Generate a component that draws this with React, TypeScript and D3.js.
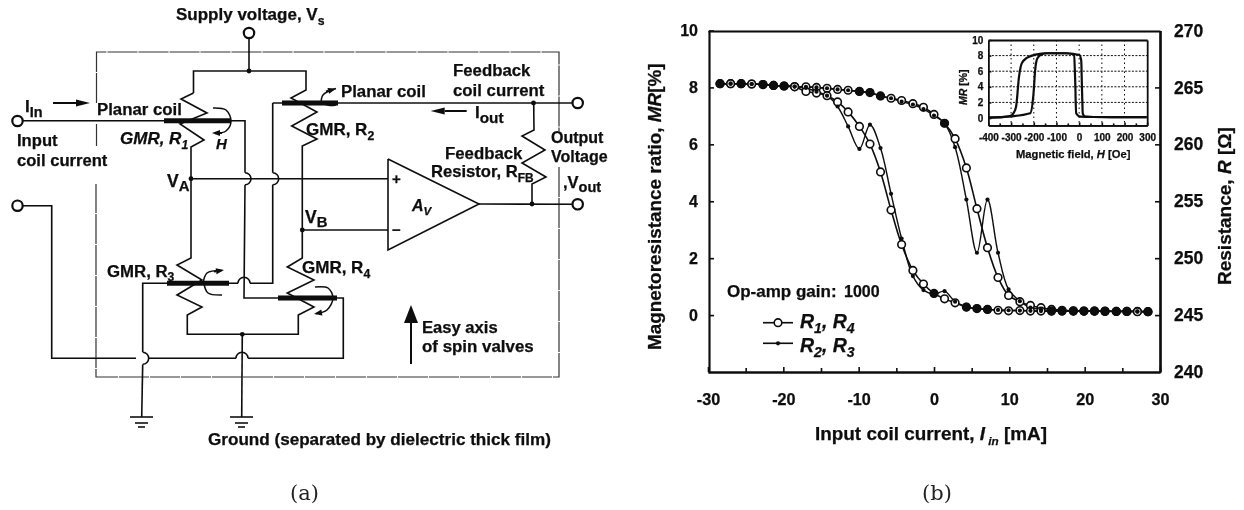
import React, { useEffect, useRef } from 'react';
import * as d3 from 'd3';

// ---- chart (b) values ----
const currentMA = [-28.4, -27, -25.6, -24.2, -22.7, -21.3, -19.9, -18.5, -17, -15.6, -14.2, -12.8, -11.4, -9.9, -8.5, -7.1, -5.7, -4.3, -2.8, -1.4, 0, 1.4, 2.8, 4.3, 5.7, 7.1, 8.5, 9.9, 11.4, 12.8, 14.2, 15.6, 17, 18.5, 19.9, 21.3, 22.7, 24.2, 25.6, 27, 28.4];
const r14Upper = [8.13, 8.13, 8.13, 8.12, 8.1, 8.07, 8.05, 8.03, 8.02, 8, 7.97, 7.93, 7.9, 7.86, 7.82, 7.7, 7.62, 7.54, 7.43, 7.3, 7.05, 6.74, 6.2, 5.17, 3.74, 2.37, 1.32, 0.69, 0.47, 0.34, 0.26, 0.2, 0.17, 0.15, 0.14, 0.14, 0.14, 0.13, 0.13, 0.13, 0.12];
const r14Lower = [8.13, 8.13, 8.13, 8.12, 8.1, 8.07, 8.05, 8.02, 7.86, 7.8, 7.71, 7.49, 7.14, 6.63, 6.01, 5.03, 3.69, 2.48, 1.57, 1.09, 0.76, 0.57, 0.43, 0.28, 0.23, 0.2, 0.17, 0.15, 0.16, 0.14, 0.14, 0.14, 0.14, 0.14, 0.14, 0.14, 0.13, 0.13, 0.13, 0.12, 0.12];
const r23Upper = [8.13, 8.13, 8.13, 8.12, 8.1, 8.07, 8.05, 8.03, 8.02, 8, 7.97, 7.93, 7.9, 7.86, 7.82, 7.7, 7.62, 7.5, 7.4, 7.24, 7.01, 6.74, 5.9, 4.06, 2.19, 4.06, 2.19, 0.9, 0.49, 0.26, 0.2, 0.16, 0.15, 0.15, 0.14, 0.14, 0.14, 0.13, 0.13, 0.13, 0.12];
const r23Lower = [8.13, 8.13, 8.13, 8.12, 8.1, 8.07, 8.05, 8.03, 7.98, 7.85, 7.71, 7.33, 6.63, 5.84, 6.69, 5.87, 4.26, 2.69, 1.37, 0.88, 0.74, 0.84, 0.47, 0.3, 0.22, 0.2, 0.18, 0.17, 0.16, 0.15, 0.14, 0.14, 0.14, 0.14, 0.14, 0.14, 0.13, 0.13, 0.13, 0.12, 0.12];
// where the open and filled markers print on top of each other as a solid blob
const solidOnUpper = [-28.4, -25.6, -22.7, -21.3, -19.9, -9.9, -8.5, -7.1, 1.4];
const solidOnLower = [0, 4.3, 5.7, 7.1, 15.6, 17, 18.5, 19.9, 21.3, 22.7, 24.2, 25.6, 28.4];

const mrTicks = [0, 2, 4, 6, 8, 10];
const ohmTicks = [240, 245, 250, 255, 260, 265, 270];
const currentTicks = [-30, -20, -10, 0, 10, 20, 30];
const currentMinorTicks = [-25, -15, -5, 5, 15, 25];

// ---- inset values ----
const fieldOuterLeft = [-400, -340, -304, -290, -278, -265, -253, -231, -187, -143, -60, -22, -18, -13, 4, 63, 298];
const mrOuterLeft = [0.05, 0.1, 0.26, 0.6, 1.45, 5.3, 7, 7.7, 8.16, 8.3, 8.3, 8.1, 5.3, 0.6, 0.17, 0.13, 0.1];
const fieldOuterRight = [-400, -300, -216, -201, -194, -184, -165, -143, -54, 1, 9, 13, 16, 26, 63, 298];
const mrOuterRight = [0.05, 0.2, 0.6, 3.2, 6.1, 7.65, 8.16, 8.3, 8.3, 8.07, 7.4, 3.2, 0.6, 0.17, 0.13, 0.1];
const insetMrTicks = [0, 2, 4, 6, 8, 10];
const insetFieldTicks = [-400, -300, -200, -100, 0, 100, 200, 300];
const insetFieldMinor = [-350, -250, -150, -50, 50, 150, 250];

const BOLD = '"Liberation Sans", Arial, sans-serif';
const SERIF = '"DejaVu Serif", serif';
const INK = '#0c0c0c';

type Seg = { t: string; sub?: boolean; it?: boolean };
type Note = { x: number; y: number; s: number; parts: Seg[]; italic?: boolean; subScale?: number };

const plain = (t: string): Seg[] => [{ t }];

// ---- schematic (a) labels ----
const circuitNotes: Note[] = [
  { x: 176, y: 20, s: 17, parts: [{ t: 'Supply voltage, V' }, { t: 's', sub: true }] },
  { x: 25, y: 112, s: 17, parts: [{ t: 'I' }, { t: 'In', sub: true }], subScale: 0.85 },
  { x: 97, y: 115, s: 16.8, parts: plain('Planar coil') },
  { x: 17, y: 146, s: 16.6, parts: plain('Input') },
  { x: 17, y: 166, s: 16.6, parts: plain('coil current') },
  { x: 120, y: 144, s: 17, italic: true, parts: [{ t: 'GMR, R' }, { t: '1', sub: true }] },
  { x: 216, y: 149, s: 15, italic: true, parts: plain('H') },
  { x: 167, y: 186.5, s: 17.5, parts: [{ t: 'V' }, { t: 'A', sub: true }], subScale: 0.85 },
  { x: 305, y: 222.5, s: 17.5, parts: [{ t: 'V' }, { t: 'B', sub: true }], subScale: 0.85 },
  { x: 341, y: 97, s: 16.8, parts: plain('Planar coil') },
  { x: 306, y: 135, s: 17, parts: [{ t: 'GMR, R' }, { t: '2', sub: true }] },
  { x: 453, y: 76, s: 16.8, parts: plain('Feedback') },
  { x: 453, y: 96, s: 16.8, parts: plain('coil current') },
  { x: 475, y: 118, s: 17, parts: [{ t: 'I' }, { t: 'out', sub: true }], subScale: 0.9 },
  { x: 551, y: 143, s: 16, parts: plain('Output') },
  { x: 551, y: 161.5, s: 16, parts: plain('Voltage') },
  { x: 563, y: 187.5, s: 16.5, parts: [{ t: ',V' }, { t: 'out', sub: true }], subScale: 0.88 },
  { x: 445, y: 158.5, s: 16.8, parts: plain('Feedback') },
  { x: 431, y: 177, s: 16.6, parts: [{ t: 'Resistor, R' }, { t: 'FB', sub: true }] },
  { x: 412, y: 211, s: 16, italic: true, parts: [{ t: 'A' }, { t: 'V', sub: true }] },
  { x: 392, y: 184, s: 15, parts: plain('+') },
  { x: 392, y: 235, s: 15, parts: plain('−') },
  { x: 107, y: 276.5, s: 16.8, parts: [{ t: 'GMR, R' }, { t: '3', sub: true }] },
  { x: 302, y: 273, s: 17, parts: [{ t: 'GMR, R' }, { t: '4', sub: true }] },
  { x: 422, y: 333, s: 16.6, parts: plain('Easy axis') },
  { x: 422, y: 352, s: 16.9, parts: plain('of spin valves') },
  { x: 208, y: 445, s: 17.1, parts: plain('Ground (separated by dielectric thick film)') },
];

// ---- schematic wiring, in the diagram's own pixel space ----
type Pt = [number, number];
const wires: Pt[][] = [
  [[249, 38], [249, 71]],
  [[193.5, 93], [193.5, 71], [306, 71], [306, 90], [291, 98], [317, 112], [291.7, 126], [317, 139], [302.3, 146], [302.3, 258], [287.3, 267], [314, 280], [287.3, 293], [314, 307], [298.3, 315], [298.3, 334.3], [187.3, 334.3], [187.3, 315], [202, 307], [177, 295], [202, 280], [177, 265], [191, 258], [191, 147], [204, 140], [180, 124], [207, 113], [181, 99], [193.5, 93]],
  [[23, 120.7], [245, 120.7], [245, 172.7]],
  [[245, 184.7], [244, 298], [343.3, 298], [343.3, 358.3], [248, 358.3]],
  [[236, 358.3], [148.5, 358.3]],
  [[136, 358.3], [51.7, 358.3], [51.7, 205.7], [23, 205.7]],
  [[272.7, 103], [272.7, 172.7]],
  [[272.7, 184.7], [272.7, 283.3], [250, 283.3]],
  [[238, 283.3], [142.7, 283.3], [142.7, 352]],
  [[142.7, 364.6], [141.7, 417]],
  [[242.3, 334.3], [241.7, 417]],
  [[272.7, 103], [572, 103]],
  [[191, 178.7], [388, 178.7]],
  [[302.3, 230], [388, 230]],
  [[388, 159], [479, 204], [388, 250], [388, 159]],
  [[479, 204], [572, 204.3]],
  [[533.7, 103], [534, 130], [522, 136], [545, 150], [522, 163], [546, 177], [532, 184], [532, 204]],
  [[130, 417], [153, 417]], [[135, 423], [148, 423]], [[138, 427], [145, 427]],
  [[230, 417], [253, 417]], [[235, 423], [248, 423]], [[238, 427], [245, 427]],
];
const coilBars: Pt[][] = [
  [[164, 120.7], [231, 120.7]],
  [[282, 103], [338, 103]],
  [[167, 283.3], [229, 283.3]],
  [[278, 298], [337, 298]],
];
const boxRuns: Pt[][] = [
  [[96.5, 103], [96.5, 52], [559, 52], [559, 131]],
  [[559, 167], [559, 377], [96, 377], [96, 184]],
  [[96.5, 124], [96.5, 146]],
];
const hopsRight: Pt[] = [[245, 178.7], [272.7, 178.7], [142.7, 358.3]];
const hopsUp: Pt[] = [[244, 283.3], [242, 358.3]];
const joints: Pt[] = [[249, 71], [191, 178.7], [302.3, 230], [533.5, 103], [532, 204], [242.3, 334.3]];
const terminals: Pt[] = [[249, 33], [17.5, 121], [17.5, 205.7], [577.7, 103], [577.7, 204.3]];
const fieldArcs: Pt[][] = [
  [[213, 108], [226, 110], [231, 121], [226, 131], [215, 133.5]],
  [[321, 104], [323, 95], [336, 88.5]],
  [[324, 104], [330, 105.5], [336, 105]],
  [[203, 284], [207, 273], [222, 270.5]],
  [[204, 284], [208, 293], [222, 295]],
  [[315, 287], [328, 288], [333, 298], [327, 310], [316, 313.5]],
];
const arrows: [Pt, Pt, number, number][] = [
  [[53, 103], [90, 103], 14, 7],
  [[466.7, 111], [430.7, 111], 14, 7],
  [[411, 364], [411, 305], 18, 14],
  [[222, 133], [212, 133], 8, 6],
  [[326, 91.5], [336, 88.5], 8, 6],
  [[214, 271.5], [224, 270], 8, 6],
  [[322, 312.5], [314, 314], 8, 6],
];

export default function App() {
  const svgEl = useRef<SVGSVGElement>(null);

  useEffect(() => {
    const root = d3.select(svgEl.current);
    root.selectAll('*').remove();

    // the source is a scan, everything sits slightly soft
    root.append('defs').append('filter').attr('id', 'scan')
      .attr('filterUnits', 'userSpaceOnUse')
      .attr('x', 0).attr('y', 0).attr('width', 1244).attr('height', 510)
      .append('feGaussianBlur').attr('stdDeviation', 0.4);
    const svg = root.append('g').attr('filter', 'url(#scan)');

    const note = (g: any, n: Note) => {
      const text = g.append('text')
        .attr('x', n.x).attr('y', n.y)
        .attr('font-family', BOLD).attr('font-weight', 700)
        .attr('font-size', n.s).attr('fill', INK)
        .attr('stroke', INK).attr('stroke-width', 0.25)
        .attr('font-style', n.italic ? 'italic' : 'normal');
      const drop = n.s * 0.28;
      n.parts.forEach((p, i) => {
        const prev = n.parts[i - 1];
        const span = text.append('tspan')
          .attr('font-size', p.sub ? n.s * (n.subScale || 0.72) : n.s)
          .attr('dy', p.sub ? drop : prev && prev.sub ? -drop : 0)
          .text(p.t);
        if (p.it) span.attr('font-style', 'italic');
      });
      return text;
    };

    // ---------- (a) schematic ----------
    const a = svg.append('g');
    const poly = d3.line<Pt>();
    const smooth = d3.line<Pt>().curve(d3.curveCatmullRom.alpha(0.5));

    a.selectAll('path.box').data(boxRuns).join('path')
      .attr('d', (d) => poly(d)).attr('fill', 'none')
      .attr('stroke', '#333').attr('stroke-width', 1.2).attr('stroke-dasharray', '30 1');
    a.selectAll('path.wire').data(wires).join('path')
      .attr('d', (d) => poly(d)).attr('fill', 'none')
      .attr('stroke', INK).attr('stroke-width', 1.6).attr('stroke-linejoin', 'miter');
    a.selectAll('path.bar').data(coilBars).join('path')
      .attr('d', (d) => poly(d)).attr('fill', 'none')
      .attr('stroke', INK).attr('stroke-width', 5);
    const hop = (c: Pt, from: number, to: number) => {
      const p = d3.path();
      p.arc(c[0], c[1], 6, from, to, false);
      return p.toString();
    };
    hopsRight.forEach((c) => {
      a.append('path').attr('d', hop(c, -Math.PI / 2, Math.PI / 2))
        .attr('fill', 'none').attr('stroke', INK).attr('stroke-width', 1.6);
    });
    hopsUp.forEach((c) => {
      a.append('path').attr('d', hop(c, Math.PI, 2 * Math.PI))
        .attr('fill', 'none').attr('stroke', INK).attr('stroke-width', 1.6);
    });
    a.selectAll('path.arc').data(fieldArcs).join('path')
      .attr('d', (d) => smooth(d)).attr('fill', 'none')
      .attr('stroke', INK).attr('stroke-width', 1.5);
    arrows.forEach(([from, to, head, wid]) => {
      const ang = Math.atan2(to[1] - from[1], to[0] - from[0]);
      const bx = to[0] - head * Math.cos(ang);
      const by = to[1] - head * Math.sin(ang);
      const nx = (-Math.sin(ang) * wid) / 2;
      const ny = (Math.cos(ang) * wid) / 2;
      a.append('path').attr('d', poly([from, [bx, by]])).attr('stroke', INK).attr('stroke-width', 2);
      a.append('path').attr('fill', INK)
        .attr('d', poly([to, [bx + nx, by + ny], [bx - nx, by - ny]]) + 'Z');
    });
    a.selectAll('circle.joint').data(joints).join('circle')
      .attr('cx', (d) => d[0]).attr('cy', (d) => d[1]).attr('r', 2.4).attr('fill', INK);
    a.selectAll('circle.term').data(terminals).join('circle')
      .attr('cx', (d) => d[0]).attr('cy', (d) => d[1]).attr('r', 5.2)
      .attr('fill', '#fff').attr('stroke', INK).attr('stroke-width', 2.2);
    circuitNotes.forEach((n) => note(a, n));
    a.append('text').attr('x', 290).attr('y', 500)
      .attr('font-family', SERIF).attr('font-size', 21).attr('fill', '#222').text('(a)');

    // ---------- (b) main plot ----------
    const xCur = d3.scaleLinear().domain([-30, 30]).range([708, 1160]);
    const yMr = d3.scaleLinear().domain([-2, 10]).range([372, 30.5]);
    const yOhm = d3.scaleLinear().domain([240, 270]).range([372, 30.5]);
    const b = svg.append('g');

    const styleAxis = (g: any, size: number, sw: number) => {
      g.selectAll('path.domain').attr('stroke', INK).attr('stroke-width', sw);
      g.selectAll('.tick line').attr('stroke', INK).attr('stroke-width', 1.6);
      g.selectAll('.tick text').attr('font-family', BOLD).attr('font-weight', 700)
        .attr('font-size', size).attr('fill', INK)
        .attr('stroke', INK).attr('stroke-width', 0.25);
    };
    const mainAxes: [any, string, number][] = [
      [d3.axisLeft(yMr).tickValues(mrTicks).tickSizeInner(-5).tickSizeOuter(0).tickPadding(11), 'translate(709,0)', 16],
      [d3.axisRight(yOhm).tickValues(ohmTicks.slice(1, -1)).tickSizeInner(-5).tickSizeOuter(0).tickFormat(() => ''), 'translate(1160,0)', 16],
      [d3.axisRight(yOhm).tickValues(ohmTicks).tickSize(0).tickPadding(14), 'translate(1160,0)', 17.5],
      [d3.axisBottom(xCur).tickValues(currentTicks).tickSizeInner(-5).tickSizeOuter(0).tickPadding(21).tickFormat((d) => String(d)), 'translate(0,372)', 16.2],
      [d3.axisBottom(xCur).tickValues(currentMinorTicks).tickSizeInner(-4).tickSizeOuter(0).tickFormat(() => ''), 'translate(0,372)', 16],
      [d3.axisTop(xCur).tickValues([]).tickSizeOuter(0), 'translate(0,31)', 16],
    ];
    mainAxes.forEach(([axis, tr, size]) => {
      b.append('g').attr('transform', tr).call(axis).call(styleAxis, size, 2.2);
    });

    const curve = d3.line<number>()
      .x((_, i) => xCur(currentMA[i]))
      .y((d) => yMr(d))
      .curve(d3.curveCatmullRom.alpha(0.5));
    [r14Upper, r14Lower, r23Upper, r23Lower].forEach((vals, k) => {
      b.append('path').attr('d', curve(vals)).attr('fill', 'none')
        .attr('stroke', INK).attr('stroke-width', k < 2 ? 1.6 : 1.4);
    });
    [r14Upper, r14Lower].forEach((vals) => {
      b.append('g').selectAll('circle').data(vals).join('circle')
        .attr('cx', (_, i) => xCur(currentMA[i])).attr('cy', (d) => yMr(d)).attr('r', 3.8)
        .attr('fill', '#fff').attr('stroke', INK).attr('stroke-width', 1.6);
    });
    [r23Upper, r23Lower].forEach((vals) => {
      b.append('g').selectAll('circle').data(vals).join('circle')
        .attr('cx', (_, i) => xCur(currentMA[i])).attr('cy', (d) => yMr(d)).attr('r', 2.1).attr('fill', INK);
    });
    const blobs = (xs: number[], vals: number[]) => {
      b.append('g').selectAll('circle').data(xs).join('circle')
        .attr('cx', (d) => xCur(d)).attr('cy', (d) => yMr(vals[currentMA.indexOf(d)]))
        .attr('r', 4.3).attr('fill', INK);
    };
    blobs(solidOnUpper, r14Upper);
    blobs(solidOnLower, r14Lower);

    note(b, { x: 727, y: 297, s: 17, parts: plain('Op-amp gain:') });
    note(b, { x: 844, y: 297, s: 16, parts: plain('1000') });

    // legend
    const legendRows: [string, string, number, number, boolean][] = [['1', '4', 322.7, 328, true], ['2', '3', 343.3, 352, false]];
    legendRows.forEach(([m, n, ly, ty, open]) => {
      b.append('line').attr('x1', 763).attr('x2', 793).attr('y1', ly).attr('y2', ly)
        .attr('stroke', INK).attr('stroke-width', 1.6);
      b.append('circle').attr('cx', 778).attr('cy', ly).attr('r', open ? 3.8 : 2.1)
        .attr('fill', open ? '#fff' : INK).attr('stroke', open ? INK : 'none').attr('stroke-width', 1.6);
      note(b, { x: 800, y: ty, s: 19.5, italic: true, parts: [{ t: 'R' }, { t: m, sub: true }, { t: ', R' }, { t: n, sub: true }] });
    });

    // axis titles
    note(b, { x: 815, y: 440, s: 18.9, subScale: 0.62, parts: [{ t: 'Input coil current, ' }, { t: 'I', it: true }, { t: ' in', sub: true, it: true }, { t: ' [mA]' }] });
    note(b, { x: 0, y: 0, s: 18.9, parts: [{ t: 'Magnetoresistance ratio, ' }, { t: 'MR', it: true }, { t: '[%]' }] })
      .attr('transform', 'translate(661,350) rotate(-90)');
    note(b, { x: 0, y: 0, s: 19, parts: [{ t: 'Resistance, ' }, { t: 'R', it: true }, { t: ' [Ω]' }] })
      .attr('transform', 'translate(1231,285) rotate(-90)');
    b.append('text').attr('x', 922).attr('y', 500)
      .attr('font-family', SERIF).attr('font-size', 21).attr('fill', '#222').text('(b)');

    // ---------- inset ----------
    const xField = d3.scaleLinear().domain([-400, 300]).range([988.4, 1147.2]);
    const yIn = d3.scaleLinear().domain([-0.95, 10]).range([125.4, 40]);
    const inset = svg.append('g');
    inset.append('g').selectAll('line').data(insetMrTicks.slice(1, -1)).join('line')
      .attr('x1', 988.4).attr('x2', 1147.2).attr('y1', (d) => yIn(d)).attr('y2', (d) => yIn(d))
      .attr('stroke', INK).attr('stroke-width', 1).attr('stroke-dasharray', '2 1.5');
    inset.append('g').selectAll('line').data(insetFieldTicks.slice(1, -1)).join('line')
      .attr('y1', 40).attr('y2', 125.4).attr('x1', (d) => xField(d)).attr('x2', (d) => xField(d))
      .attr('stroke', INK).attr('stroke-width', 1).attr('stroke-dasharray', '1.5 3');
    const insetAxes: [any, string][] = [
      [d3.axisLeft(yIn).tickValues(insetMrTicks).tickSizeInner(-3).tickSizeOuter(0).tickPadding(5), 'translate(988.4,0)'],
      [d3.axisBottom(xField).tickValues(insetFieldTicks).tickSizeInner(-3).tickSizeOuter(0).tickPadding(9).tickFormat((d) => String(d)), 'translate(0,125.4)'],
      [d3.axisBottom(xField).tickValues(insetFieldMinor).tickSizeInner(-2).tickSizeOuter(0).tickFormat(() => ''), 'translate(0,125.4)'],
      [d3.axisTop(xField).tickValues([]).tickSizeOuter(0), 'translate(0,40)'],
      [d3.axisRight(yIn).tickValues([]).tickSizeOuter(0), 'translate(1147.2,0)'],
    ];
    insetAxes.forEach(([axis, tr]) => {
      inset.append('g').attr('transform', tr).call(axis).call(styleAxis, 10, 1.8);
    });
    const loop = d3.line<number>().y((d) => yIn(d)).curve(d3.curveMonotoneX);
    inset.append('path').attr('d', loop.x((_, i) => xField(fieldOuterLeft[i]))(mrOuterLeft))
      .attr('fill', 'none').attr('stroke', INK).attr('stroke-width', 2.2);
    inset.append('path').attr('d', loop.x((_, i) => xField(fieldOuterRight[i]))(mrOuterRight))
      .attr('fill', 'none').attr('stroke', INK).attr('stroke-width', 2.2);
    note(inset, { x: 1016, y: 157.5, s: 11.2, parts: [{ t: 'Magnetic field, ' }, { t: 'H', it: true }, { t: ' [Oe]' }] });
    note(inset, { x: 0, y: 0, s: 10.5, parts: [{ t: 'MR', it: true }, { t: ' [%]' }] })
      .attr('transform', 'translate(967,105) rotate(-90)');
  }, []);

  return (
    <svg
      ref={svgEl}
      width={1244}
      height={510}
      style={{ position: 'absolute', left: 0, top: 0, background: '#fff', display: 'block' }}
    />
  );
}
